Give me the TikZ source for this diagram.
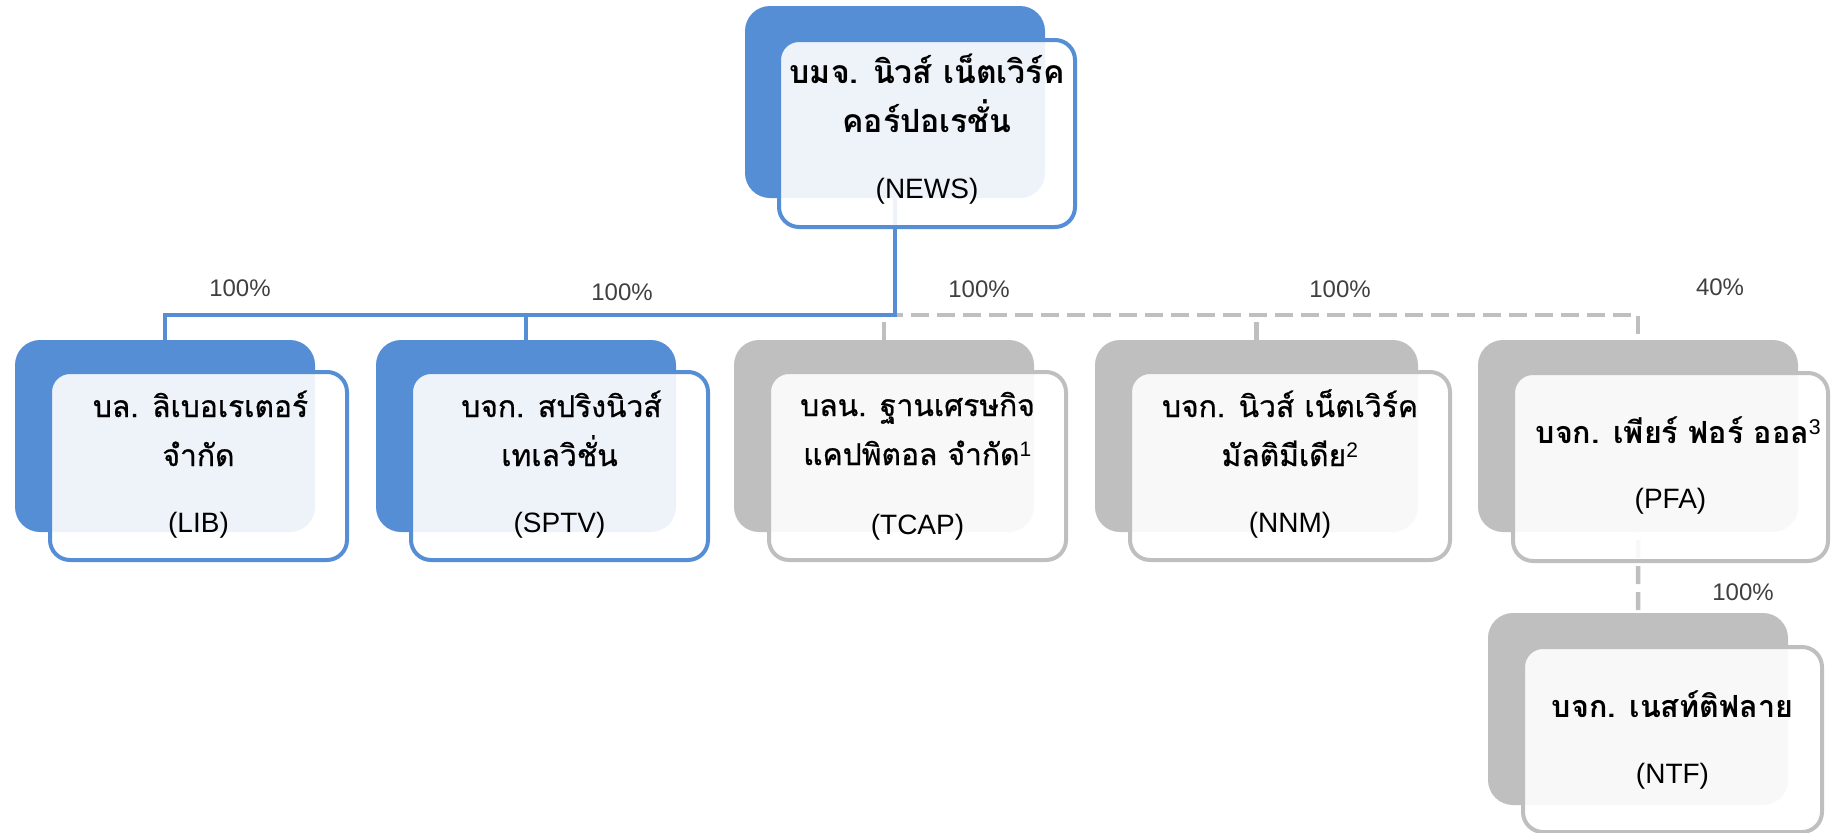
\documentclass[tikz,border=0pt]{standalone}
\usepackage{fontspec}
\setmainfont{Liberation Sans}
\newfontfamily\thai[Script=Thai]{Loma}
\newfontfamily\thaimed[Script=Thai,FakeBold=0.8]{Loma}
\usetikzlibrary{calc}
\definecolor{cblue}{HTML}{558ED5}
\definecolor{cgray}{HTML}{BFBFBF}
\definecolor{ctext}{HTML}{404040}
\pgfdeclarelayer{bg}
\pgfsetlayers{bg,main}
\newcommand\supnum[1]{\textsuperscript{\rmfamily\mdseries #1}}
\tikzset{
  backbox/.style={rectangle, rounded corners=25bp, minimum height=192bp, inner sep=0pt, outer sep=0pt, anchor=north west},
  frontbox/.style={rectangle, rounded corners=20bp, minimum height=188bp, inner sep=0pt, outer sep=0pt, line width=4bp, fill=white, fill opacity=0.9, anchor=north west},
  bback/.style={backbox, fill=cblue},
  gback/.style={backbox, fill=cgray},
  bfront/.style={frontbox, draw=cblue},
  gfront/.style={frontbox, draw=cgray},
  thline/.style={anchor=base, inner sep=0pt, font=\thaimed\fontsize{30bp}{36bp}\selectfont},
  thbold/.style={thline, font=\thai\bfseries\fontsize{30.5bp}{36bp}\selectfont},
  thbig/.style={thline, font=\thai\bfseries\fontsize{32bp}{36bp}\selectfont},
  codeline/.style={anchor=base, inner sep=0pt, font=\fontsize{28bp}{32bp}\selectfont},
  pct/.style={inner sep=0pt, text=ctext, font=\fontsize{24bp}{28bp}\selectfont},
  bluelink/.style={draw=cblue, line width=4bp},
  graylink/.style={draw=cgray, line width=4.5bp, dash pattern=on 18bp off 8bp}
}
\begin{document}
\begin{tikzpicture}[x=1bp, y=-1bp]
\useasboundingbox (0,0) rectangle (1832,833);
\coordinate (busY) at (0,315);

% back boxes
\node[bback, minimum width=300bp] (NEWSb) at (745,6) {};
\node[bback, minimum width=300bp] (LIBb) at (15,340) {};
\node[bback, minimum width=300bp] (SPTVb) at (376,340) {};
\node[gback, minimum width=300bp] (TCAPb) at (734,340) {};
\node[gback, minimum width=323bp] (NNMb) at (1095,340) {};
\node[gback, minimum width=320bp] (PFAb) at (1478,340) {};
\node[gback, minimum width=300bp] (NTFb) at (1488,613) {};

% connectors
\begin{pgfonlayer}{bg}
\draw[graylink] (TCAPb.north) -- (TCAPb.north |- busY) -| (PFAb.north);
\draw[graylink] (NNMb.north) -- (NNMb.north |- busY);
\draw[graylink] (PFAb.center) -- (NTFb.north);
\draw[bluelink] (NEWSb.center) -- (NEWSb.center |- busY) -| (LIBb.north);
\draw[bluelink] (SPTVb.north) -- (SPTVb.north |- busY);
\end{pgfonlayer}

% front boxes
\node[bfront, minimum width=296bp, minimum height=187bp] (NEWSf) at ($(NEWSb.north west)+(34,34)$) {};
\node[bfront, minimum width=297bp] (LIBf) at ($(LIBb.north west)+(35,32)$) {};
\node[bfront, minimum width=297bp] (SPTVf) at ($(SPTVb.north west)+(35,32)$) {};
\node[gfront, minimum width=297bp] (TCAPf) at ($(TCAPb.north west)+(35,32)$) {};
\node[gfront, minimum width=320bp] (NNMf) at ($(NNMb.north west)+(35,32)$) {};
\node[gfront, minimum width=315bp] (PFAf) at ($(PFAb.north west)+(35,33)$) {};
\node[gfront, minimum width=299bp, minimum height=185bp] (NTFf) at ($(NTFb.north west)+(35,34)$) {};

% texts
\node[thbig] (NEWS1) at ($(NEWSf.north)+(0,43)$) {บมจ. นิวส์ เน็ตเวิร์ค};
\node[thbig] (NEWS2) at ($(NEWSf.north)+(0,92)$) {คอร์ปอเรชั่น};
\node[codeline] (NEWS3) at ($(NEWSf.north)+(0,158)$) {(NEWS)};

\node[thline] (LIB1) at ($(LIBf.north)+(2,45)$) {บล. ลิเบอเรเตอร์};
\node[thline] (LIB2) at ($(LIBf.north)+(0,94)$) {จำกัด};
\node[codeline] (LIB3) at ($(LIBf.north)+(0,160)$) {(LIB)};

\node[thline] (SPTV1) at ($(SPTVf.north)+(2,45)$) {บจก. สปริงนิวส์};
\node[thline] (SPTV2) at ($(SPTVf.north)+(0,94)$) {เทเลวิชั่น};
\node[codeline] (SPTV3) at ($(SPTVf.north)+(0,160)$) {(SPTV)};

\node[thline] (TCAP1) at ($(TCAPf.north)+(0,44)$) {บลน. ฐานเศรษกิจ};
\node[thline] (TCAP2) at ($(TCAPf.north)+(0,93)$) {แคปพิตอล จำกัด\supnum{1}};
\node[codeline] (TCAP3) at ($(TCAPf.north)+(0,162)$) {(TCAP)};

\node[thline] (NNM1) at ($(NNMf.north)+(0,45)$) {บจก. นิวส์ เน็ตเวิร์ค};
\node[thline] (NNM2) at ($(NNMf.north)+(0,94)$) {มัลติมีเดีย\supnum{2}};
\node[codeline] (NNM3) at ($(NNMf.north)+(0,160)$) {(NNM)};

\node[thbold] (PFA1) at ($(PFAf.north)+(8,70)$) {บจก. เพียร์ ฟอร์ ออล\supnum{3}};
\node[codeline] (PFA3) at ($(PFAf.north)+(0,135)$) {(PFA)};

\node[thbold] (NTF1) at ($(NTFf.north)+(0,70)$) {บจก. เนสท์ติฟลาย};
\node[codeline] (NTF3) at ($(NTFf.north)+(0,136)$) {(NTF)};

% percentages
\node[pct] (p1) at (240,288) {100\%};
\node[pct] (p2) at (622,292) {100\%};
\node[pct] (p3) at (979,289) {100\%};
\node[pct] (p4) at (1340,289) {100\%};
\node[pct] (p5) at (1720,287) {40\%};
\node[pct] (p6) at (1743,592) {100\%};
\end{tikzpicture}
\end{document}
